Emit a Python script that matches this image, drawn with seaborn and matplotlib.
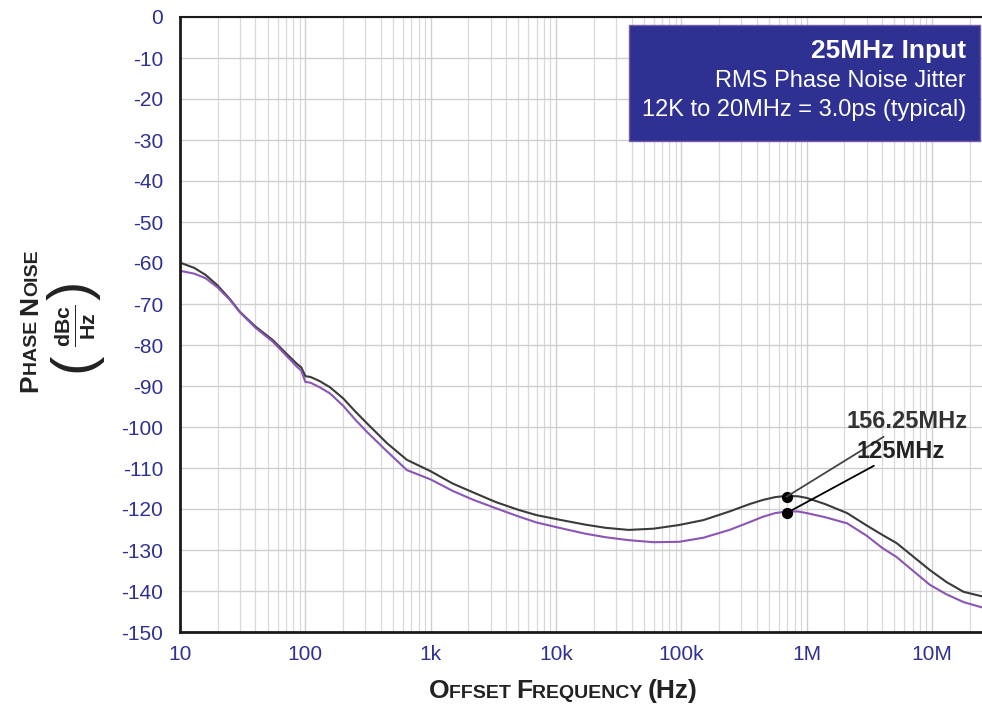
import numpy as np
import pandas as pd
import seaborn as sns
import matplotlib
matplotlib.use("Agg")
import matplotlib.pyplot as plt
from matplotlib.ticker import FixedLocator, LogLocator, NullFormatter
from matplotlib.patches import Rectangle

# ---------------- data ----------------
freq = [10, 13, 16, 20, 25, 30, 40, 55, 70, 85, 93, 100, 110, 130, 157, 200, 250, 310,
        450, 645, 1e3, 1.5e3, 2.2e3, 3.3e3, 5e3, 7e3, 1.1e4, 1.7e4, 2.5e4, 3.8e4, 6e4,
        9.6e4, 1.5e5, 2.42e5, 3.5e5, 4.46e5, 5.6e5, 6.9e5, 8.5e5, 1e6, 1.4e6, 2.1e6,
        3e6, 4e6, 5.2e6, 7e6, 9.6e6, 1.3e7, 1.78e7, 2.5e7]
noise_156 = [-59.9, -61.2, -62.9, -65.5, -68.8, -71.9, -75.5, -78.8, -82, -84.5, -85.5,
             -87.6, -87.8, -88.8, -90.3, -93, -96.2, -99.1, -104, -108, -110.8, -113.8,
             -116, -118.3, -120.2, -121.5, -122.7, -123.8, -124.6, -125.1, -124.8, -123.9,
             -122.7, -120.6, -118.8, -117.8, -117.1, -116.8, -116.9, -117.3, -118.8, -121,
             -124, -126.3, -128.3, -131.5, -134.9, -137.8, -140.2, -141.3]
noise_125 = [-61.9, -62.6, -63.7, -66, -69, -72, -75.8, -79.2, -82.5, -85.2, -86.3,
             -89, -89.2, -90.3, -91.8, -94.8, -98.2, -101.2, -106, -110.5, -112.8, -115.6,
             -117.8, -119.8, -121.8, -123.3, -124.7, -126, -126.9, -127.6, -128.1, -128,
             -127, -125.1, -123.2, -121.9, -121, -120.6, -120.6, -121, -122, -123.5,
             -126.5, -129.5, -131.7, -135, -138.5, -140.8, -142.7, -144]
series_names = ["156.25MHz", "125MHz"]
marker_freq = [6.9e5, 6.9e5]
marker_vals = [-117.0, -121.0]

ytick_vals = list(range(0, -151, -10))
xtick_vals = [10, 100, 1e3, 1e4, 1e5, 1e6, 1e7]
xtick_labels = ["10", "100", "1k", "10k", "100k", "1M", "10M"]

box_title = "25MHz Input"
box_lines = ["RMS Phase Noise Jitter", "12K to 20MHz = 3.0ps (typical)"]

# ---------------- style ----------------
sns.set_style("white")
plt.rcParams["font.family"] = ["Liberation Sans", "DejaVu Sans"]
plt.rcParams["mathtext.fontset"] = "custom"
plt.rcParams["mathtext.rm"] = "Liberation Sans"
plt.rcParams["mathtext.bf"] = "Liberation Sans:bold"

NAVY = "#2e3192"
W, H = 982, 707
fig = plt.figure(figsize=(W / 100, H / 100), dpi=100)
ax = fig.add_axes([180 / W, 1 - 632 / H, 1 - 180 / W, 615 / H])

df = pd.DataFrame({
    "freq": freq * 2,
    "noise": noise_156 + noise_125,
    "series": [series_names[0]] * len(freq) + [series_names[1]] * len(freq),
})
sns.lineplot(data=df, x="freq", y="noise", hue="series",
             palette={series_names[0]: "#3a3a3a", series_names[1]: "#8a55b5"},
             linewidth=1.5, legend=False, ax=ax, estimator=None, sort=True)

ax.set_xscale("log")
ax.set_xlim(10, 2.5e7)
ax.set_ylim(-150, 0)

ax.yaxis.set_major_locator(FixedLocator(ytick_vals))
ax.set_yticklabels([str(v) for v in ytick_vals])
ax.xaxis.set_major_locator(FixedLocator(xtick_vals))
ax.set_xticklabels(xtick_labels)
ax.xaxis.set_minor_locator(LogLocator(base=10, subs=np.arange(2, 10)))
ax.xaxis.set_minor_formatter(NullFormatter())

ax.grid(True, which="major", axis="both", color="#cfcfcf", linewidth=1.0)
ax.grid(True, which="minor", axis="x", color="#d8d8d8", linewidth=0.9)
ax.set_axisbelow(True)

ax.tick_params(axis="both", which="both", length=0, labelsize=15, colors=NAVY)
ax.tick_params(axis="y", pad=12)
ax.tick_params(axis="x", pad=9)
for s in ["left", "bottom", "top"]:
    ax.spines[s].set_color("#1a1a1a")
    ax.spines[s].set_linewidth(2.0)
ax.spines["top"].set_linewidth(1.5)
ax.spines["right"].set_visible(False)
ax.set_xlabel("")
ax.set_ylabel("")

# markers and callouts
ax.scatter(marker_freq, marker_vals, s=50, color="black", zorder=5)
ax.annotate(series_names[0], xy=(marker_freq[0], marker_vals[0]),
            xytext=(847 / W, 1 - 422 / H), textcoords="figure fraction",
            fontsize=17, fontweight="bold", color="#333333", va="center", ha="left",
            arrowprops=dict(arrowstyle="-", color="#444444", lw=1.3, shrinkA=0, shrinkB=0),
            zorder=6)
ax.annotate(series_names[1], xy=(marker_freq[1], marker_vals[1]),
            xytext=(857 / W, 1 - 451 / H), textcoords="figure fraction",
            fontsize=17, fontweight="bold", color="#222222", va="center", ha="left",
            arrowprops=dict(arrowstyle="-", color="black", lw=1.3, shrinkA=0, shrinkB=0),
            zorder=6)

# info box
fig.patches.append(Rectangle((629 / W, 1 - 141 / H), (980 - 629) / W, 116 / H,
                             transform=fig.transFigure, facecolor=NAVY,
                             edgecolor="#7a5ca8", linewidth=1.0, zorder=10))
fig.text(966 / W, 1 - 51 / H, box_title, ha="right", va="center", color="white",
         fontsize=19, fontweight="bold", zorder=11)
fig.text(966 / W, 1 - 81 / H, box_lines[0], ha="right", va="center", color="white",
         fontsize=17, zorder=11)
fig.text(966 / W, 1 - 110 / H, box_lines[1], ha="right", va="center", color="white",
         fontsize=17, zorder=11)

# small-caps axis labels
def small_caps(pieces, center, vertical=False):
    texts = []
    for txt, size in pieces:
        t = fig.text(0, 0, txt, fontsize=size, fontweight="bold", color="#222222",
                     ha="left", va="baseline", rotation=90 if vertical else 0,
                     rotation_mode="anchor")
        texts.append(t)
    fig.canvas.draw()
    r = fig.canvas.get_renderer()
    lens = []
    for t in texts:
        bb = t.get_window_extent(r)
        lens.append(bb.height if vertical else bb.width)
    total = sum(lens)
    cx, cy = center  # pixel coords from top-left (baseline position)
    if vertical:
        pos = (H - cy) - total / 2
        for t, L in zip(texts, lens):
            t.set_position((cx / W, pos / H))
            pos += L
    else:
        pos = cx - total / 2
        for t, L in zip(texts, lens):
            t.set_position((pos / W, (H - cy) / H))
            pos += L

BIG, SMALL = 19, 14
small_caps([("O", BIG), ("FFSET ", SMALL), ("F", BIG), ("REQUENCY ", SMALL), ("(Hz)", BIG)],
           (563, 698))
small_caps([("P", BIG), ("HASE ", SMALL), ("N", BIG), ("OISE", SMALL)], (37, 321), vertical=True)

# units: (dBc/Hz) with large parentheses
fig.text(75 / W, 1 - 326 / H, r"$\frac{\mathbf{dBc}}{\mathbf{Hz}}$",
         rotation=90, ha="center", va="center", fontsize=22, color="#222222")
fig.text(74 / W, 1 - 362 / H, "(", rotation=90, ha="center", va="center",
         fontsize=42, color="#222222")
fig.text(74 / W, 1 - 290 / H, ")", rotation=90, ha="center", va="center",
         fontsize=42, color="#222222")

fig.savefig("out.png", dpi=100)
